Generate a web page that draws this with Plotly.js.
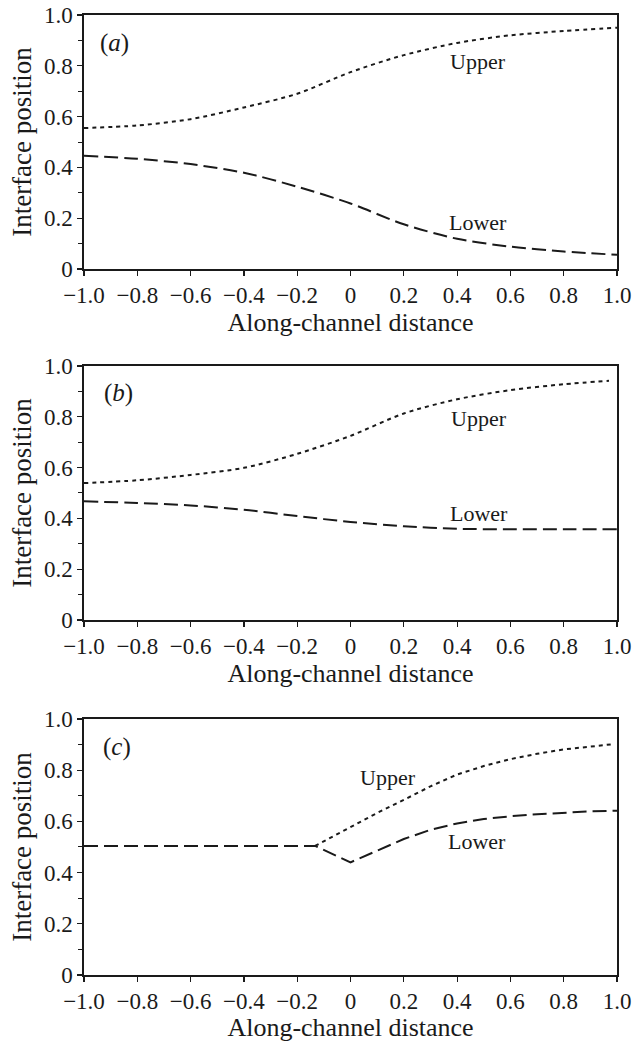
<!DOCTYPE html>
<html>
<head>
<meta charset="utf-8">
<script src="https://cdn.plot.ly/plotly-3.0.1.min.js"></script>
<style>html,body{margin:0;padding:0;background:#fff;}#chart{width:632px;height:1042px;}</style>
</head>
<body>
<div id="chart"></div>
<script>
// Tick labels
const xTickVals = [-1.0, -0.8, -0.6, -0.4, -0.2, 0, 0.2, 0.4, 0.6, 0.8, 1.0];
const xTickText = ['\u22121.0', '\u22120.8', '\u22120.6', '\u22120.4', '\u22120.2', '0', '0.2', '0.4', '0.6', '0.8', '1.0'];
const yTickVals = [0, 0.2, 0.4, 0.6, 0.8, 1.0];
const yTickText = ['0', '0.2', '0.4', '0.6', '0.8', '1.0'];
const panelLabels = ['(<i>a</i>)', '(<i>b</i>)', '(<i>c</i>)'];
const seriesNames = ['Upper', 'Lower'];

// Panel (a)
const aX = [-1.0, -0.8, -0.6, -0.4, -0.2, 0, 0.2, 0.4, 0.6, 0.8, 1.0];
const aUpper = [0.555, 0.565, 0.590, 0.636, 0.690, 0.775, 0.842, 0.890, 0.920, 0.937, 0.950];
const aLower = [0.446, 0.434, 0.413, 0.379, 0.324, 0.258, 0.176, 0.119, 0.088, 0.069, 0.056];

// Panel (b)
const bUpperX = [-1.0, -0.8, -0.6, -0.4, -0.2, 0, 0.2, 0.4, 0.6, 0.8, 0.97];
const bUpper = [0.539, 0.550, 0.571, 0.599, 0.654, 0.725, 0.813, 0.869, 0.905, 0.928, 0.942];
const bLowerX = [-1.0, -0.8, -0.6, -0.4, -0.2, 0, 0.2, 0.4, 0.6, 0.8, 1.0];
const bLower = [0.467, 0.461, 0.451, 0.434, 0.409, 0.386, 0.369, 0.359, 0.357, 0.357, 0.357];

// Panel (c)
const cUpperX = [-0.133, -0.1, 0, 0.1, 0.2, 0.3, 0.4, 0.5, 0.6, 0.7, 0.8, 0.9, 0.99];
const cUpper = [0.504, 0.522, 0.578, 0.633, 0.684, 0.737, 0.783, 0.816, 0.843, 0.864, 0.881, 0.893, 0.902];
const cLowerX = [-1.0, -0.133, 0, 0.1, 0.2, 0.3, 0.4, 0.5, 0.6, 0.7, 0.8, 0.9, 1.0];
const cLower = [0.504, 0.504, 0.440, 0.487, 0.531, 0.567, 0.592, 0.609, 0.620, 0.628, 0.634, 0.639, 0.642];

// Label positions (data coordinates)
const labelPos = {
  a: {panel: [-0.884, 0.888], upper: [0.48, 0.815], lower: [0.48, 0.183]},
  b: {panel: [-0.871, 0.893], upper: [0.483, 0.793], lower: [0.483, 0.421]},
  c: {panel: [-0.875, 0.889], upper: [0.141, 0.770], lower: [0.475, 0.522]}
};

const FONT = 'Liberation Serif';
const INK = '#1a1a1a';
const upperLine = {color: INK, width: 2, dash: '4px,4px'};
const lowerLine = {color: INK, width: 2, dash: '14px,6px'};

const traces = [
  {x: aX, y: aUpper, xaxis: 'x', yaxis: 'y', mode: 'lines', line: Object.assign({shape: 'spline', smoothing: 0.8}, upperLine), name: seriesNames[0]},
  {x: aX, y: aLower, xaxis: 'x', yaxis: 'y', mode: 'lines', line: Object.assign({shape: 'spline', smoothing: 0.8}, lowerLine), name: seriesNames[1]},
  {x: bUpperX, y: bUpper, xaxis: 'x2', yaxis: 'y2', mode: 'lines', line: Object.assign({shape: 'spline', smoothing: 0.8}, upperLine), name: seriesNames[0]},
  {x: bLowerX, y: bLower, xaxis: 'x2', yaxis: 'y2', mode: 'lines', line: Object.assign({shape: 'spline', smoothing: 0.8}, lowerLine), name: seriesNames[1]},
  {x: cUpperX, y: cUpper, xaxis: 'x3', yaxis: 'y3', mode: 'lines', line: Object.assign({shape: 'linear'}, upperLine), name: seriesNames[0]},
  {x: cLowerX, y: cLower, xaxis: 'x3', yaxis: 'y3', mode: 'lines', line: Object.assign({shape: 'linear'}, lowerLine), name: seriesNames[1]}
];

function xAxis(anchor) {
  return {
    anchor: anchor, domain: [0, 1], range: [-1, 1],
    tickmode: 'array', tickvals: xTickVals, ticktext: xTickText,
    ticks: 'outside', ticklen: 5, tickwidth: 1.2, tickcolor: INK,
    showline: true, linecolor: INK, linewidth: 1.6, mirror: true,
    showgrid: false, zeroline: false,
    tickfont: {family: FONT, size: 23, color: INK},
    title: {text: 'Along-channel distance', font: {family: FONT, size: 26, color: INK}, standoff: 1},
    automargin: false
  };
}
function yAxis(anchor, domain) {
  return {
    anchor: anchor, domain: domain, range: [0, 1],
    tickmode: 'array', tickvals: yTickVals, ticktext: yTickText,
    ticks: 'outside', ticklen: 5, tickwidth: 1.2, tickcolor: INK,
    minor: {dtick: 0.1, ticks: 'outside', ticklen: 4, tickwidth: 1, tickcolor: INK, showgrid: false},
    showline: true, linecolor: INK, linewidth: 1.6, mirror: true,
    showgrid: false, zeroline: false,
    tickfont: {family: FONT, size: 23, color: INK},
    title: {text: 'Interface position', font: {family: FONT, size: 27, color: INK}, standoff: 4},
    automargin: false
  };
}

const annotations = [];
[['a', 'x', 'y'], ['b', 'x2', 'y2'], ['c', 'x3', 'y3']].forEach(function (p, i) {
  const pos = labelPos[p[0]];
  annotations.push({text: panelLabels[i], x: pos.panel[0], y: pos.panel[1], xref: p[1], yref: p[2], showarrow: false, font: {family: FONT, size: 25, color: INK}});
  annotations.push({text: seriesNames[0], x: pos.upper[0], y: pos.upper[1], xref: p[1], yref: p[2], showarrow: false, font: {family: FONT, size: 22, color: INK}});
  annotations.push({text: seriesNames[1], x: pos.lower[0], y: pos.lower[1], xref: p[1], yref: p[2], showarrow: false, font: {family: FONT, size: 22, color: INK}});
});

const layout = {
  width: 632, height: 1042,
  margin: {l: 84, r: 15, t: 15, b: 67},
  paper_bgcolor: '#fff', plot_bgcolor: '#fff',
  showlegend: false,
  xaxis: xAxis('y'), yaxis: yAxis('x', [0.7354, 1]),
  xaxis2: xAxis('y2'), yaxis2: yAxis('x2', [0.3698, 0.6344]),
  xaxis3: xAxis('y3'), yaxis3: yAxis('x3', [0, 0.2667]),
  annotations: annotations
};

Plotly.newPlot('chart', traces, layout, {staticPlot: true, displayModeBar: false});
</script>
</body>
</html>
